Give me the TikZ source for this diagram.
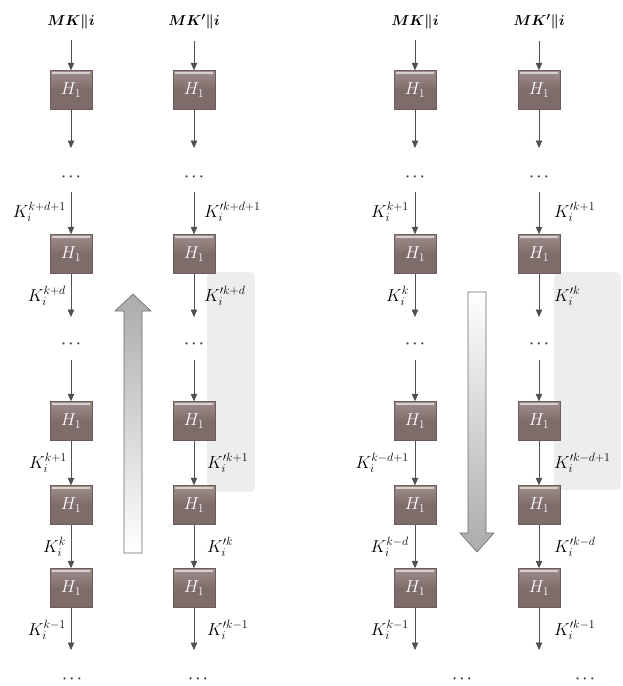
\documentclass[tikz,border=0pt]{standalone}
\usepackage{bm}
\usepackage{fontspec}
\setmainfont{Liberation Serif}
\usetikzlibrary{arrows.meta}
\definecolor{boxc}{HTML}{7E6C6A}
\definecolor{boxtop}{HTML}{9E8E8C}
\definecolor{boxedge}{HTML}{6C5C5A}
\definecolor{linec}{HTML}{505050}
\definecolor{panel}{HTML}{EDEDED}
\definecolor{bigarr}{HTML}{ABABAB}
\definecolor{dotc}{HTML}{404040}
\begin{document}
\begin{tikzpicture}[x=1pt,y=-1pt,
  hbox/.style={draw=boxedge, line width=0.4pt, top color=boxtop, bottom color=boxc, middle color=boxc,
    minimum width=42pt, minimum height=39pt, inner sep=0pt, text=white,
    font=\fontsize{18}{18}\selectfont,
    path picture={\fill[white,opacity=0.6] ([xshift=2pt,yshift=-1.2pt]path picture bounding box.north west) rectangle ([xshift=-2pt,yshift=-3.2pt]path picture bounding box.north east);}},
  flow/.style={draw=linec, line width=0.6pt, -{Triangle[width=6.5pt,length=7.5pt]}},
  toplab/.style={inner sep=0pt, font=\fontsize{15}{15}\selectfont},
  klab/.style={inner sep=0pt, font=\fontsize{17}{17}\selectfont},
  dotn/.style={inner sep=0pt, text=dotc, font=\fontsize{15}{15}\selectfont},
  panelbox/.style={fill=panel, draw=none, rounded corners=5pt},
  bigarrow/.style={draw=gray!85!black, line width=0.6pt}
]
\useasboundingbox (0,0) rectangle (623,686);
% shaded panels
\path[panelbox] (207,272) rectangle (255,492);
\path[panelbox] (554,272) rectangle (621,490);
% big arrows
\path[bigarrow, top color=bigarr, bottom color=white]
  (124,553) -- (124,311) -- (115,311) -- (133,294) -- (151,311) -- (142,311) -- (142,553) -- cycle;
\path[bigarrow, top color=white, bottom color=bigarr]
  (468,292) -- (468,533) -- (460,533) -- (477,552) -- (494,533) -- (486,533) -- (486,292) -- cycle;
% columns
\foreach \c/\x/\lab/\dx in {a/71/{MK\|i}/1, b/194/{MK'\|i}/4, c/415/{MK\|i}/47, d/539/{MK'\|i}/46}{
  \node[toplab] (\c t) at (\x,22) {$\bm{\lab}$};
  \node[hbox] (\c1) at (\x,90) {$H_1$};
  \coordinate (\c e1) at (\x,148);
  \node[dotn] (\c d1) at (\x,177) {$\bm{\cdots}$};
  \node[hbox] (\c2) at (\x,254) {$H_1$};
  \coordinate (\c e2) at (\x,317);
  \node[dotn] (\c d2) at (\x,344) {$\bm{\cdots}$};
  \node[hbox] (\c3) at (\x,421) {$H_1$};
  \node[hbox] (\c4) at (\x,505) {$H_1$};
  \node[hbox] (\c5) at (\x,588) {$H_1$};
  \coordinate (\c e3) at (\x,650);
  \node[dotn] (\c d3) at (\x+\dx,679) {$\bm{\cdots}$};
  \draw[flow, shorten <=11pt] (\c t) -- (\c1);
  \draw[flow] (\c1) -- (\c e1);
  \draw[flow, shorten <=11pt] (\c d1) -- (\c2);
  \draw[flow] (\c2) -- (\c e2);
  \draw[flow, shorten <=12pt] (\c d2) -- (\c3);
  \draw[flow] (\c3) -- (\c4);
  \draw[flow] (\c4) -- (\c5);
  \draw[flow] (\c5) -- (\c e3);
}
% labels column a
\node[klab, anchor=east] (la1) at (66,212) {$K_i^{k+d+1}$};
\node[klab, anchor=east] (la2) at (66,296) {$K_i^{k+d}$};
\node[klab, anchor=east] (la3) at (67,463) {$K_i^{k+1}$};
\node[klab, anchor=east] (la4) at (66,547) {$K_i^{k}$};
\node[klab, anchor=east] (la5) at (66,630) {$K_i^{k-1}$};
% labels column b
\node[klab, anchor=west] (lb1) at (204,212) {$K'^{k+d+1}_i$};
\node[klab, anchor=west] (lb2) at (204,296) {$K'^{k+d}_i$};
\node[klab, anchor=west] (lb3) at (207,463) {$K'^{k+1}_i$};
\node[klab, anchor=west] (lb4) at (207,547) {$K'^{k}_i$};
\node[klab, anchor=west] (lb5) at (207,630) {$K'^{k-1}_i$};
% labels column c
\node[klab, anchor=east] (lc1) at (409,212) {$K_i^{k+1}$};
\node[klab, anchor=east] (lc2) at (409,296) {$K_i^{k}$};
\node[klab, anchor=east] (lc3) at (409,463) {$K_i^{k-d+1}$};
\node[klab, anchor=east] (lc4) at (409,547) {$K_i^{k-d}$};
\node[klab, anchor=east] (lc5) at (409,630) {$K_i^{k-1}$};
% labels column d
\node[klab, anchor=west] (ld1) at (554,212) {$K'^{k+1}_i$};
\node[klab, anchor=west] (ld2) at (554,296) {$K'^{k}_i$};
\node[klab, anchor=west] (ld3) at (554,463) {$K'^{k-d+1}_i$};
\node[klab, anchor=west] (ld4) at (554,547) {$K'^{k-d}_i$};
\node[klab, anchor=west] (ld5) at (554,630) {$K'^{k-1}_i$};
\end{tikzpicture}
\end{document}
